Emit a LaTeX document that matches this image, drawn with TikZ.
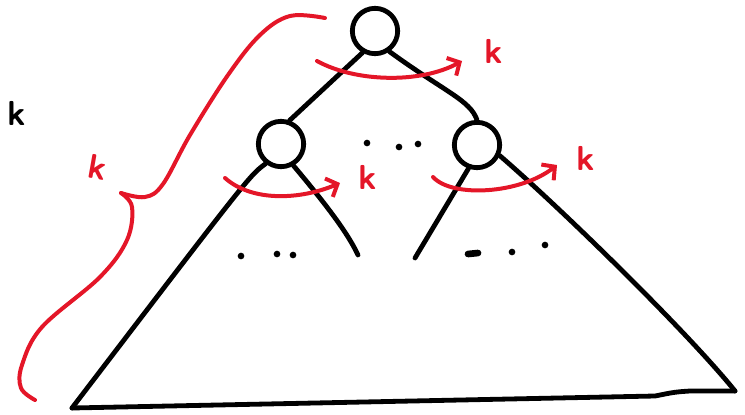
\documentclass[tikz,border=0pt]{standalone}
\usepackage{tikz}
\usetikzlibrary{arrows.meta,positioning,calc}
\definecolor{pen}{RGB}{228,22,40}

\begin{document}
\begin{tikzpicture}[
    x=0.75pt, y=-0.75pt,
    line cap=round, line join=round,
    vertex/.style={draw, circle, line width=3.6pt, minimum size=34pt, inner sep=0pt},
    edge/.style={line width=3.6pt},
    turn/.style={draw=pen, line width=3pt, -{Straight Barb[length=7pt,width=15pt,line width=3pt]}},
    klabel/.style={font=\sffamily\bfseries\fontsize{26}{26}\selectfont, inner sep=0pt},
    dot/.style={fill, circle, inner sep=0pt, minimum size=5pt}
]
\useasboundingbox (0,0) rectangle (745,414);

% Knoten
\node[vertex] (root) at (375,31) {};
\node[vertex] (lchild) at (281,144) {};
\node[vertex] (rchild) at (477,145) {};

\draw[edge] (root.240) -- (lchild.70);
\draw[edge] (root.305) .. controls (445,92) and (470,100) .. (rchild.north);

% grosses Dreieck
\coordinate (bl) at (72,408);
\coordinate (br) at (735,391);
\coordinate (linner) at (358,255);
\coordinate (rinner) at (415,258);

\draw[edge] (lchild.232) .. controls (250,175) .. (bl);
\draw[edge] (lchild.300) .. controls (335,215) and (350,238) .. (linner);
\draw[edge] (rchild.250) -- (rinner);
\draw[edge] (rchild.335) .. controls (565,212) and (690,335) .. (br);
\draw[edge] (bl) -- (655,396) .. controls (675,392) .. (690,391) -- (br);

% Punkte
\foreach \p in {(367,143),(399,147),(418,144),(241,256),(277,254),(293,255),(512,252),(545,245)}
    \node[dot] at \p {};
\draw[line width=5pt] (468,254) -- (478,253);

% rote Boegen
\coordinate (ra) at (317,61);
\coordinate (rb) at (462,61);
\coordinate (la) at (225,178);
\coordinate (lb) at (340,183);
\coordinate (qa) at (433,177);
\coordinate (qb) at (557,165);

\draw[turn] (ra) .. controls (355,82) and (420,84) .. (rb);
\draw[turn] (la) .. controls (252,202) and (300,200) .. (lb);
\draw[turn] (qa) .. controls (452,198) and (520,194) .. (qb);

\node[klabel, pen] (kroot) at (494,51) {k};
\node[klabel, pen] (kleft) at (368,177) {k};
\node[klabel, pen] (kright) at (586,158) {k};

% Klammer
\draw[pen, line width=3pt] plot[smooth, tension=0.6] coordinates {(325,18) (290,16) (260,35) (228,75) (190,135) (163,184) (145,197) (121,193)};
\draw[pen, line width=3pt] plot[smooth, tension=0.6] coordinates {(121,193) (132,207) (127,240) (100,277) (42,327) (22,365) (21,388) (35,400)};
\node[klabel, pen, rotate=-10] (kbrace) at (98,167) {k};

\node[klabel] (kside) at (17,113) {k};

\end{tikzpicture}
\end{document}
